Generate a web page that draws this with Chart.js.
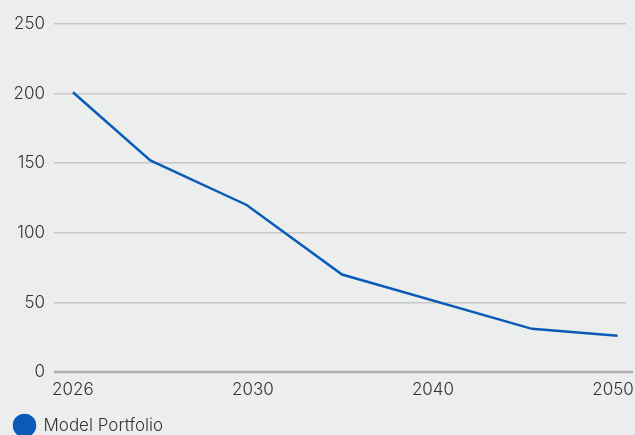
<!DOCTYPE html>
<html>
<head>
<meta charset="utf-8">
<script src="https://cdn.jsdelivr.net/npm/chart.js@4.4.1/dist/chart.umd.min.js"></script>
<style>
  html, body { margin: 0; padding: 0; background: #eceeed; }
  #wrap { width: 635px; height: 435px; }
</style>
</head>
<body>
<div id="wrap"><canvas id="myChart"></canvas></div>
<script>
// tick labels sit at evenly spaced slots 0..3 on the x axis
const yearLabels = ['2026', '2030', '2040', '2050'];

// where each point falls, in those slot units
const pointSlots = [0, 0.43, 0.965, 1.495, 2.55, 3.025];
const portfolio = [201, 152, 120, 70, 31, 26];

const data = {
    datasets: [{
        label: 'Model Portfolio',
        data: pointSlots.map((s, i) => ({ x: s, y: portfolio[i] })),
        borderColor: '#0a5bb8',
        backgroundColor: '#0a5bb8',
        borderWidth: 2.5,
        pointRadius: 0,
        tension: 0,
    }]
};

// zero line runs a bit past the other grid lines
const baseline = {
    id: 'baseline',
    beforeDatasetsDraw(chart) {
        const y = chart.scales.y.getPixelForValue(0);
        const ctx = chart.ctx;
        ctx.save();
        ctx.strokeStyle = '#adadad';
        ctx.lineWidth = 2.5;
        ctx.beginPath();
        ctx.moveTo(chart.chartArea.left, y);
        ctx.lineTo(chart.chartArea.right + 7, y);
        ctx.stroke();
        ctx.restore();
    }
};

Chart.defaults.font.family = 'Inter, "Noto Sans", sans-serif';
Chart.defaults.font.size = 17;
Chart.defaults.font.weight = 300;
Chart.defaults.color = '#333333';

const config = {
    type: 'line',
    data: data,
    plugins: [baseline],
    options: {
        responsive: true,
        maintainAspectRatio: false,
        animation: false,
        layout: { padding: { top: 24, right: 9, left: 0, bottom: -9 } },
        plugins: {
            tooltip: { enabled: false },
            legend: {
                position: 'bottom',
                align: 'start',
                labels: {
                    usePointStyle: true,
                    pointStyle: 'circle',
                    pointStyleWidth: 21,
                    boxHeight: 15,
                    padding: 14,
                    color: '#333333'
                }
            }
        },
        scales: {
            x: {
                type: 'linear',
                min: -0.105,
                max: 3.072,
                afterBuildTicks: (axis) => {
                    axis.ticks = yearLabels.map((_, i) => ({ value: i }));
                },
                afterFit: (axis) => {
                    axis.height = 31;
                    axis.paddingLeft = 0;
                    axis.paddingRight = 0;
                },
                ticks: {
                    padding: 8,
                    maxRotation: 0,
                    callback: (v) => yearLabels[v]
                },
                grid: { display: false, drawTicks: false },
                border: { display: false }
            },
            y: {
                min: 0,
                max: 250,
                afterFit: (axis) => { axis.width = 54; },
                ticks: { stepSize: 50, padding: 9 },
                grid: {
                    drawTicks: false,
                    color: (c) => c.tick.value === 0 ? 'rgba(0,0,0,0)' : '#c6c7c7',
                    lineWidth: 1.5
                },
                border: { display: false }
            }
        }
    }
};

const myChart = new Chart(document.getElementById('myChart'), config);
</script>
</body>
</html>
